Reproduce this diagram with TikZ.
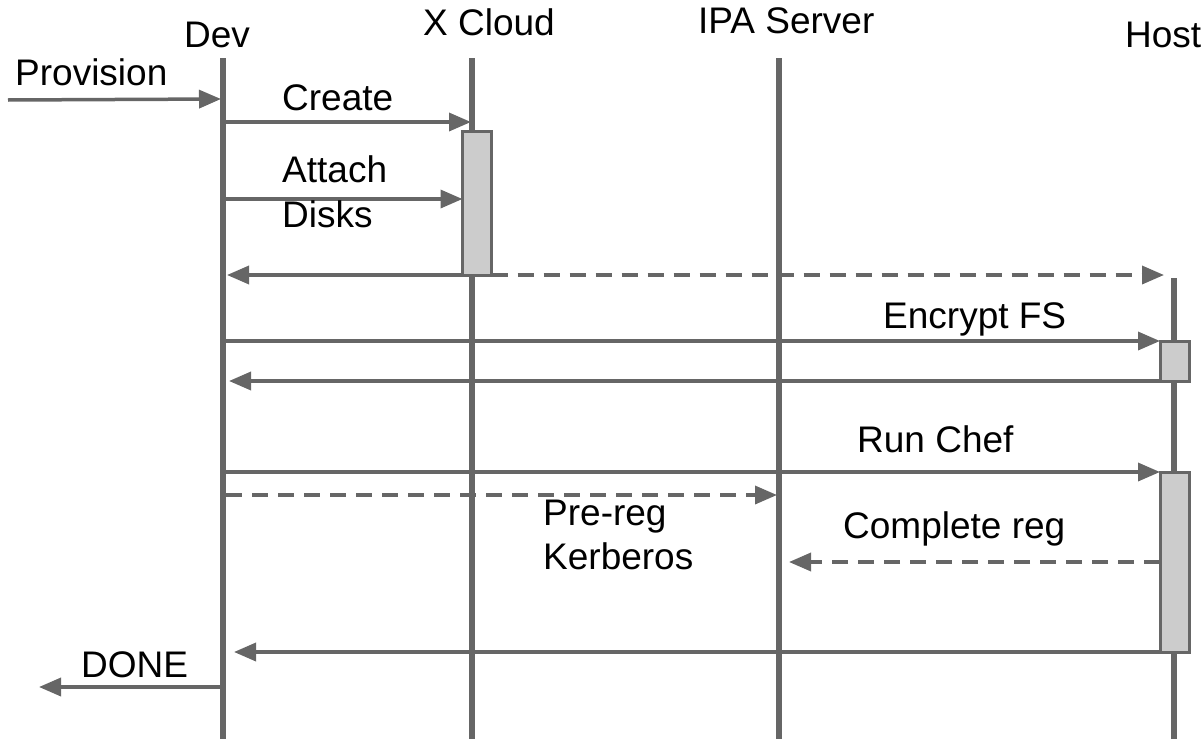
\documentclass[tikz,border=0pt]{standalone}
\usepackage{fontspec}
\setmainfont{Liberation Sans}
\usetikzlibrary{arrows.meta}
\definecolor{ln}{HTML}{666666}
\definecolor{act}{HTML}{CCCCCC}
\begin{document}
\begin{tikzpicture}[x=1pt,y=-1pt,
  lifeline/.style={draw=ln,line width=6pt},
  msg/.style={draw=ln,line width=3.5pt,-{Triangle[length=22pt,width=18pt]}},
  dmsg/.style={msg,dash pattern=on 16pt off 10pt},
  actbox/.style={draw=ln,fill=act,line width=3pt,inner sep=0pt,outer sep=0pt,anchor=north west,minimum width=29pt},
  lbl/.style={anchor=base west,inner sep=0pt,font=\fontsize{37}{43}\selectfont}]
\useasboundingbox (0,0) rectangle (1203,739);
% lifelines
\coordinate (devT) at (223,58);  \coordinate (devB) at (223,739);
\coordinate (xcT) at (472,58);   \coordinate (xcB) at (472,739);
\coordinate (ipaT) at (779,58);  \coordinate (ipaB) at (779,739);
\coordinate (hostT) at (1174,278); \coordinate (hostB) at (1174,739);
\draw[lifeline] (devT) -- (devB);
\draw[lifeline] (xcT) -- (xcB);
\draw[lifeline] (ipaT) -- (ipaB);
\draw[lifeline] (hostT) -- (hostB);
% headers
\node[lbl] (hdev) at (184,47) {Dev};
\node[lbl] (hxc) at (423,35) {X Cloud};
\node[lbl] (hipa) at (698,33) {IPA Server};
\node[lbl] (hhost) at (1125,47) {Host};
% activation boxes
\node[actbox,minimum height=144pt] (axc) at (462.5,131) {};
\node[actbox,minimum height=40pt] (ah1) at (1160,341) {};
\node[actbox,minimum height=180pt] (ah2) at (1160,472) {};
% Provision
\coordinate (p0) at (8,100); \coordinate (p1) at (221,99);
\draw[msg] (p0) -- (p1);
\node[lbl] (lprov) at (15,85) {Provision};
% Create
\coordinate (c0) at (226,122); \coordinate (c1) at (471,122);
\draw[msg] (c0) -- (c1);
\node[lbl] (lcreate) at (282,110) {Create};
% Attach disks
\coordinate (a0) at (226,199);
\draw[msg] (a0) -- (axc.west |- a0);
\node[lbl] (latt) at (282,182) {Attach};
\node[lbl] (ldisk) at (282,227) {Disks};
% return from X Cloud
\coordinate (r0) at (227,275);
\draw[msg] (axc.south west) -- (r0);
\coordinate (hs) at (1164,275);
\draw[dmsg] (axc.south east) -- (hs);
% Encrypt FS
\coordinate (e0) at (226,341);
\draw[msg] (e0) -- (ah1.north west);
\node[lbl] (lenc) at (883,328) {Encrypt FS};
\coordinate (e1) at (229,381);
\draw[msg] (ah1.south west) -- (e1);
% Run Chef
\coordinate (rc0) at (226,472);
\draw[msg] (rc0) -- (ah2.north west);
\node[lbl] (lrc) at (857,452) {Run Chef};
% Pre-reg
\coordinate (pr0) at (226,495); \coordinate (pr1) at (777,495);
\draw[dmsg] (pr0) -- (pr1);
\node[lbl] (lpre) at (543,525) {Pre-reg};
\node[lbl] (lkerb) at (543,569) {Kerberos};
% Complete reg
\coordinate (cr1) at (789,562);
\draw[dmsg] (ah2.west |- cr1) -- (cr1);
\node[lbl] (lcomp) at (843,538) {Complete reg};
% final return
\coordinate (f1) at (234,652);
\draw[msg] (ah2.south west) -- (f1);
% DONE
\coordinate (d0) at (221,687); \coordinate (d1) at (39,687);
\draw[msg] (d0) -- (d1);
\node[lbl] (ldone) at (81,677) {DONE};
\end{tikzpicture}
\end{document}
